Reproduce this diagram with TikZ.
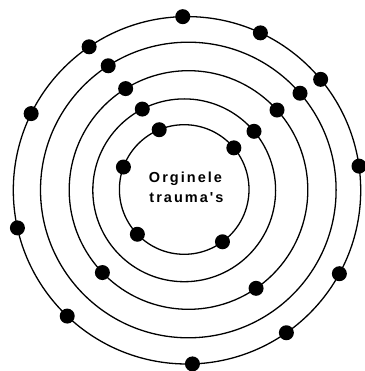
\documentclass[tikz,border=0pt]{standalone}
\usepackage{fontspec}
\newfontfamily\labfont[LetterSpace=14]{Liberation Sans}
\usetikzlibrary{calc}
\tikzset{
  ring/.style={draw=black, line width=1.3pt},
  dot/.style={circle, fill=black, inner sep=0pt, minimum size=15pt},
  lbl/.style={font=\labfont\bfseries\fontsize{14.5}{20}\selectfont, align=center, inner sep=0pt}
}
\begin{document}
\begin{tikzpicture}[x=1pt,y=-1pt]
\useasboundingbox (0,0) rectangle (364,371);
% ring centres
\coordinate (c1) at (184.2,189.5);
\coordinate (c2) at (184.2,190.3);
\coordinate (c3) at (188.5,190.0);
\coordinate (c4) at (188.3,190.0);
\coordinate (c5) at (187.0,190.3);
\draw[ring] (c1) circle[radius=64.8pt];
\draw[ring] (c2) circle[radius=91.4pt];
\draw[ring] (c3) circle[radius=119.3pt];
\draw[ring] (c4) circle[radius=147.8pt];
\draw[ring] (c5) circle[radius=173.7pt];
% dots (angles measured clockwise from east, y down)
\foreach \a [count=\i] in {-112.7,-40.0,-159.7,136.3,53.8}
  \node[dot] (d1-\i) at ($(c1)+({64.8*cos(\a)},{64.8*sin(\a)})$) {};
\foreach \a [count=\i] in {-117.3,-40.2}
  \node[dot] (d2-\i) at ($(c2)+({91.4*cos(\a)},{91.4*sin(\a)})$) {};
\foreach \a [count=\i] in {-121.8,-42.1,136.2,55.5}
  \node[dot] (d3-\i) at ($(c3)+({119.3*cos(\a)},{119.3*sin(\a)})$) {};
\foreach \a [count=\i] in {-122.8,-40.9}
  \node[dot] (d4-\i) at ($(c4)+({147.8*cos(\a)},{147.8*sin(\a)})$) {};
\foreach \a [count=\i] in {-91.4,-65.0,-39.7,-8.0,28.7,55.1,88.2,133.6,167.5,-153.8,-124.3}
  \node[dot] (d5-\i) at ($(c5)+({173.7*cos(\a)},{173.7*sin(\a)})$) {};
\node[lbl, anchor=base] (t1) at (185.5,182.3) {Orginele};
\node[lbl, anchor=base] (t2) at (186.5,202.3) {trauma's};
\end{tikzpicture}
\end{document}
